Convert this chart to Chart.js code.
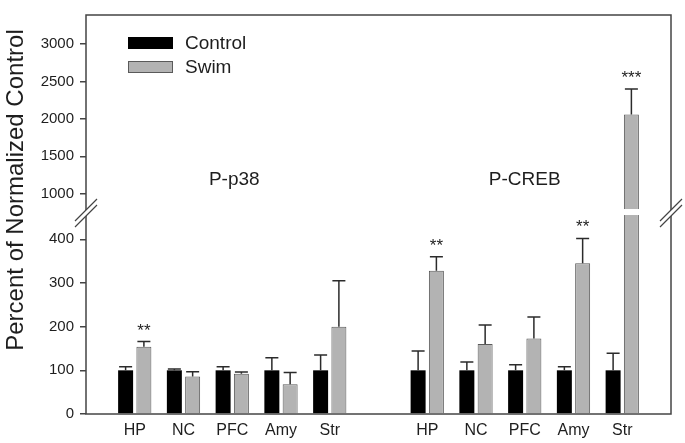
<!DOCTYPE html>
<html>
<head>
<meta charset="utf-8">
<title>P-p38 / P-CREB</title>
<script src="https://cdn.jsdelivr.net/npm/chart.js@4.4.1/dist/chart.umd.min.js"></script>
<style>
  html, body { margin: 0; padding: 0; background: #fff; }
</style>
</head>
<body>
<canvas id="chart" width="685" height="443"></canvas>
<script>
// ---- data (percent of normalized control) ----
const regions = ['HP', 'NC', 'PFC', 'Amy', 'Str'];
const groups = ['P-p38', 'P-CREB'];

const p38Control = [100, 100, 100, 100, 100];
const p38ControlErr = [8, 3, 8, 29, 35];
const p38Swim = [154, 86, 92, 68, 200];
const p38SwimErr = [12, 11, 4, 27, 105];

const crebControl = [100, 100, 100, 100, 100];
const crebControlErr = [44, 19, 13, 8, 39];
const crebSwim = [328, 160, 173, 345, 2060];
const crebSwimErr = [32, 44, 49, 57, 340];

const p38Stars = ['**', '', '', '', ''];
const crebStars = ['**', '', '', '**', '***'];

const yTicks = [0, 100, 200, 300, 400, 1000, 1500, 2000, 2500, 3000];
const yBreak = [440, 860];   // values hidden by the axis break
const yMax = 3390;

const FONT = "'Liberation Sans', Arial, Helvetica, sans-serif";
const INK = '#1e1e1e';
const AXIS = '#444444';

// two groups on one category axis, with empty slots at the ends and between
function spread(a, b, blank) {
    return [blank, ...a, blank, ...b, blank];
}

// linear scale with a piecewise (broken) mapping
const LOWER_FRAC = 0.4816;   // share of the height used by 0..yBreak[0]
const UPPER_FRAC = 0.5258;   // where yBreak[1] sits

class BrokenScale extends Chart.LinearScale {
    buildTicks() {
        super.buildTicks();
        return yTicks.map(v => ({ value: v }));
    }
    toDecimal(v) {
        const [lo, hi] = yBreak;
        if (v <= lo) return v / lo * LOWER_FRAC;
        if (v <= hi) return LOWER_FRAC + (v - lo) / (hi - lo) * (UPPER_FRAC - LOWER_FRAC);
        return UPPER_FRAC + (v - hi) / (this.max - hi) * (1 - UPPER_FRAC);
    }
    getPixelForValue(v) {
        if (v === null || v === undefined || isNaN(v)) return NaN;
        return this.getPixelForDecimal(this.toDecimal(v));
    }
    getValueForPixel(px) {
        const d = this.getDecimalForPixel(px);
        const [lo, hi] = yBreak;
        if (d <= LOWER_FRAC) return d / LOWER_FRAC * lo;
        if (d <= UPPER_FRAC) return lo + (d - LOWER_FRAC) / (UPPER_FRAC - LOWER_FRAC) * (hi - lo);
        return hi + (d - UPPER_FRAC) / (1 - UPPER_FRAC) * (this.max - hi);
    }
}
BrokenScale.id = 'broken';
Chart.register(BrokenScale);

const decor = {
    id: 'decor',
    afterDraw(chart) {
        const ctx = chart.ctx;
        const xs = chart.scales.x;
        const ys = chart.scales.y;
        const area = chart.chartArea;
        ctx.save();

        // error bars (upper only) and significance stars
        chart.data.datasets.forEach((ds, i) => {
            const meta = chart.getDatasetMeta(i);
            meta.data.forEach((bar, j) => {
                const v = ds.data[j];
                if (v === null) return;
                const top = ys.getPixelForValue(v + ds.errors[j]);
                ctx.strokeStyle = '#2b2b2b';
                ctx.lineWidth = 1.5;
                ctx.beginPath();
                ctx.moveTo(bar.x, bar.y);
                ctx.lineTo(bar.x, top);
                ctx.moveTo(bar.x - 6.5, top);
                ctx.lineTo(bar.x + 6.5, top);
                ctx.stroke();
                const star = ds.stars[j];
                if (star) {
                    ctx.fillStyle = INK;
                    ctx.font = '17px ' + FONT;
                    ctx.textAlign = 'center';
                    ctx.textBaseline = 'alphabetic';
                    ctx.fillText(star, bar.x, top - 6);
                }
            });
        });

        // frame
        ctx.strokeStyle = AXIS;
        ctx.lineWidth = 1.5;
        ctx.strokeRect(area.left, area.top, area.right - area.left, area.bottom - area.top);

        // break: gap through tall bars, and double slashes on both axes
        const yc = ys.getPixelForValue((yBreak[0] + yBreak[1]) / 2);
        ctx.fillStyle = '#fff';
        chart.data.datasets.forEach((ds, i) => {
            chart.getDatasetMeta(i).data.forEach((bar, j) => {
                if (ds.data[j] !== null && ds.data[j] > yBreak[1]) {
                    ctx.fillRect(bar.x - bar.width / 2 - 1, yc - 4, bar.width + 2, 6);
                }
            });
        });
        [area.left, area.right].forEach(ax => {
            const h = 11, d = 3;
            ctx.fillStyle = '#fff';
            ctx.beginPath();
            ctx.moveTo(ax - h, yc - d + h);
            ctx.lineTo(ax + h, yc - d - h);
            ctx.lineTo(ax + h, yc + d - h);
            ctx.lineTo(ax - h, yc + d + h);
            ctx.closePath();
            ctx.fill();
            ctx.strokeStyle = AXIS;
            ctx.lineWidth = 1.2;
            ctx.beginPath();
            [-d, d].forEach(o => {
                ctx.moveTo(ax - h, yc + o + h);
                ctx.lineTo(ax + h, yc + o - h);
            });
            ctx.stroke();
        });

        // group labels
        ctx.fillStyle = INK;
        ctx.font = '19px ' + FONT;
        ctx.textAlign = 'center';
        ctx.textBaseline = 'middle';
        const gy = ys.getPixelForValue(1190);
        ctx.fillText(groups[0], xs.getPixelForValue(3) + 2, gy);
        ctx.fillText(groups[1], xs.getPixelForValue(9), gy);

        // legend
        chart.data.datasets.forEach((ds, i) => {
            const bx = area.left + 42, by = 37 + i * 24;
            ctx.fillStyle = ds.backgroundColor;
            ctx.fillRect(bx, by, 45, 12);
            ctx.strokeStyle = ds.borderColor;
            ctx.lineWidth = 1;
            ctx.strokeRect(bx + 0.5, by + 0.5, 44, 11);
            ctx.fillStyle = INK;
            ctx.font = '19px ' + FONT;
            ctx.textAlign = 'left';
            ctx.textBaseline = 'middle';
            ctx.fillText(ds.label, bx + 57, by + 6.5);
        });

        // y axis title
        ctx.translate(23, 190);
        ctx.rotate(-Math.PI / 2);
        ctx.font = '24px ' + FONT;
        ctx.textAlign = 'center';
        ctx.textBaseline = 'alphabetic';
        ctx.fillText('Percent of Normalized Control', 0, 0);

        ctx.restore();
    }
};

new Chart(document.getElementById('chart'), {
    type: 'bar',
    data: {
        labels: spread(regions, regions, ''),
        datasets: [{
            label: 'Control',
            data: spread(p38Control, crebControl, null),
            errors: spread(p38ControlErr, crebControlErr, 0),
            stars: spread(['', '', '', '', ''], ['', '', '', '', ''], ''),
            backgroundColor: '#000000',
            borderColor: '#000000',
            borderWidth: 0
        }, {
            label: 'Swim',
            data: spread(p38Swim, crebSwim, null),
            errors: spread(p38SwimErr, crebSwimErr, 0),
            stars: spread(p38Stars, crebStars, ''),
            backgroundColor: '#b3b3b3',
            borderColor: '#5a5a5a',
            borderWidth: 1
        }]
    },
    options: {
        responsive: false,
        animation: false,
        devicePixelRatio: 1,
        categoryPercentage: 0.75,
        barPercentage: 0.82,
        layout: { padding: { top: 7, right: 14, left: 0, bottom: 0 } },
        plugins: {
            legend: { display: false },
            tooltip: { enabled: false }
        },
        scales: {
            x: {
                offset: false,
                grid: { display: false, drawTicks: false },
                border: { display: false },
                ticks: {
                    color: INK,
                    padding: 7,
                    autoSkip: false,
                    maxRotation: 0,
                    font: { family: FONT, size: 16 }
                },
                afterFit: s => { s.height = 29; }
            },
            y: {
                type: 'broken',
                min: 0,
                max: yMax,
                grid: {
                    drawOnChartArea: false,
                    drawTicks: true,
                    tickLength: 6,
                    color: AXIS,
                    lineWidth: 1.5
                },
                border: { display: false },
                ticks: {
                    color: INK,
                    padding: 6,
                    autoSkip: false,
                    font: { family: FONT, size: 15 },
                    callback: v => String(v)
                },
                afterFit: s => { s.width = 86; }
            }
        }
    },
    plugins: [decor]
});
</script>
</body>
</html>
